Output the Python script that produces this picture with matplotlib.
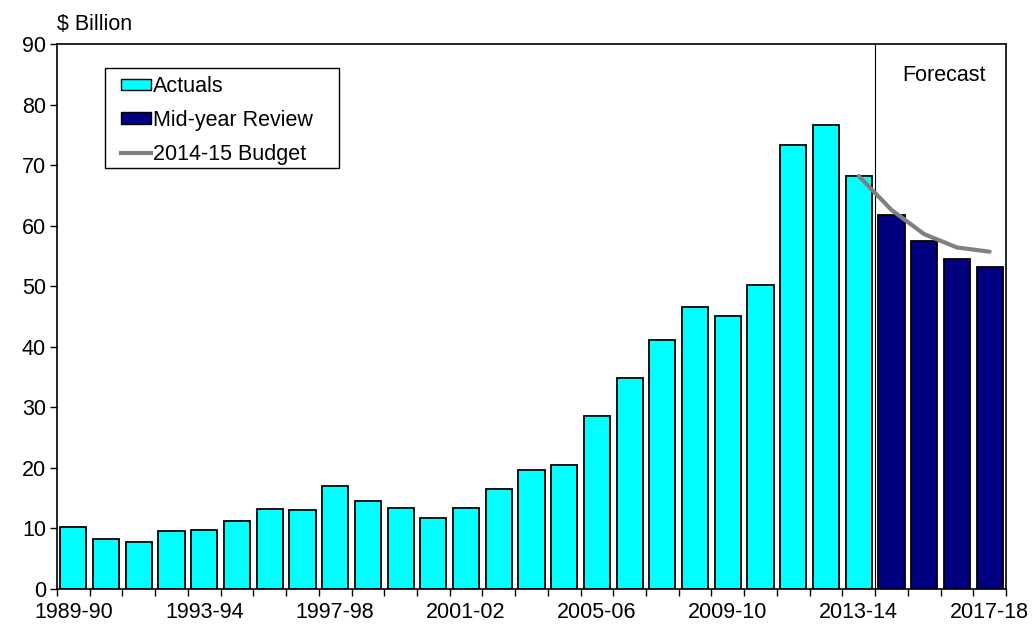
import matplotlib
matplotlib.use("Agg")
import matplotlib.pyplot as plt
from matplotlib.patches import Patch, Rectangle
from matplotlib.lines import Line2D

plt.rcParams['font.family'] = ['Liberation Sans', 'DejaVu Sans']

# Financial years shown on the horizontal axis
years = ["1989-90", "1990-91", "1991-92", "1992-93", "1993-94", "1994-95",
         "1995-96", "1996-97", "1997-98", "1998-99", "1999-00", "2000-01",
         "2001-02", "2002-03", "2003-04", "2004-05", "2005-06", "2006-07",
         "2007-08", "2008-09", "2009-10", "2010-11", "2011-12", "2012-13",
         "2013-14", "2014-15", "2015-16", "2016-17", "2017-18"]

# Outcomes ($ billion)
actuals = [10.3, 8.2, 7.8, 9.5, 9.8, 11.3, 13.2, 13.1, 17.0, 14.6,
           13.3, 11.8, 13.3, 16.5, 19.7, 20.4, 28.5, 34.8, 41.1, 46.6,
           45.1, 50.2, 73.4, 76.6, 68.2]
# Mid-year review estimates for the forecast years
mid_year = [61.7, 57.4, 54.5, 53.2]
# 2014-15 Budget path, starting from the last actual year
budget_years = ["2013-14", "2014-15", "2015-16", "2016-17", "2017-18"]
budget = [68.2, 62.6, 58.6, 56.4, 55.7]

tick_label_years = ["1989-90", "1993-94", "1997-98", "2001-02",
                    "2005-06", "2009-10", "2013-14", "2017-18"]

FS = 15.5
cyan = "#00FFFF"
navy = "#000080"
grey = "#808080"

W, H = 1033, 626
fig = plt.figure(figsize=(W / 100, H / 100), dpi=100)
ax = fig.add_axes([57 / W, 1 - 589 / H, (1006 - 57) / W, (589 - 44) / H])

idx = {y: i for i, y in enumerate(years)}
x_act = [idx[y] for y in years[:len(actuals)]]
x_mid = [idx[y] for y in years[len(actuals):]]
x_bud = [idx[y] for y in budget_years]

ax.bar(x_act, actuals, width=0.8, color=cyan, edgecolor="black", linewidth=1.3, zorder=2)
ax.bar(x_mid, mid_year, width=0.8, color=navy, edgecolor="black", linewidth=1.3, zorder=2)
ax.plot(x_bud, budget, color=grey, linewidth=3, solid_capstyle="round", zorder=3)

# Forecast divider
ax.axvline(len(actuals) - 0.5, color="black", linewidth=0.8, zorder=1)
ax.text((len(actuals) - 0.5 + len(years) - 0.5) / 2 + 0.1, 84.8, "Forecast",
        ha="center", va="center", fontsize=FS)

ax.set_xlim(-0.5, len(years) - 0.5)
ax.set_ylim(0, 90)
ax.set_yticks(range(0, 91, 10))
ax.tick_params(axis="y", direction="out", length=5, width=1, pad=3, labelsize=FS)

# Tick marks on category boundaries, labels centred on categories
ax.set_xticks([i - 0.5 for i in range(len(years) + 1)])
ax.set_xticklabels([])
ax.tick_params(axis="x", which="major", direction="out", length=5, width=1)
ax.set_xticks([idx[y] for y in tick_label_years], minor=True)
ax.set_xticklabels(tick_label_years, minor=True)
ax.tick_params(axis="x", which="minor", length=0, pad=9, labelsize=FS)

for s in ax.spines.values():
    s.set_linewidth(1.2)
    s.set_color("black")

fig.text(57 / W, 1 - 25 / H, "$ Billion", ha="left", va="center", fontsize=FS)

# Legend box drawn separately so its padding can be set freely
fig.add_artist(Rectangle((105 / W, 1 - 168 / H), (339 - 105) / W, (168 - 68) / H,
                         transform=fig.transFigure, facecolor="white",
                         edgecolor="black", linewidth=1, zorder=4))
handles = [Patch(facecolor=cyan, edgecolor="black", linewidth=1),
           Patch(facecolor=navy, edgecolor="black", linewidth=1),
           Line2D([], [], color=grey, linewidth=3)]
labels = ["Actuals", "Mid-year Review", "2014-15 Budget"]
leg = fig.legend(handles, labels, loc="upper left",
                 bbox_to_anchor=(121 / W, 1 - 76 / H),
                 fontsize=FS, frameon=False,
                 handlelength=1.4, handleheight=0.45, handletextpad=0.1,
                 labelspacing=0.6, borderpad=0, borderaxespad=0)
leg.set_zorder(5)

fig.savefig("out.png", dpi=100)
